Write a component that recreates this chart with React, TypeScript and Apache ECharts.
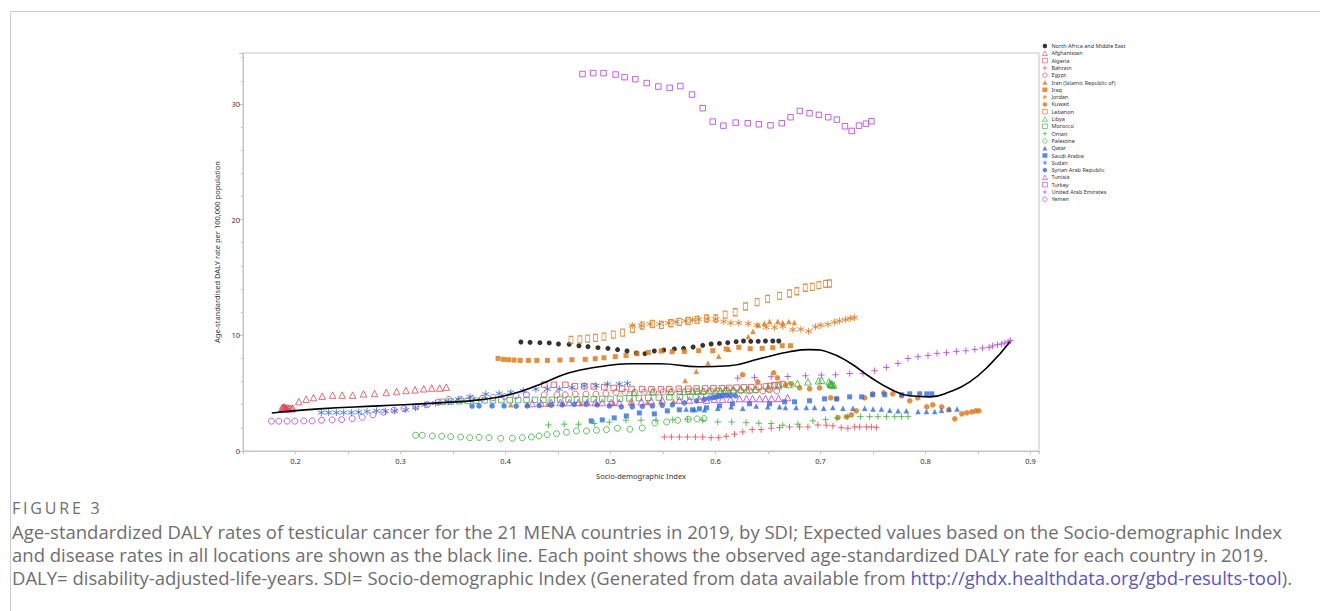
import React, { useEffect, useRef } from 'react';
import * as echarts from 'echarts';

const RED = '#e8424f';
const ORANGE = '#e2720a';
const GREEN = '#34b234';
const BLUE = '#2a6ce6';
const PURPLE = '#b13be6';
const BLACK = '#000000';

const PLUS = 'path://M0,5L10,5M5,0L5,10';
const STAR = 'path://M5,0L5,10M0.67,2.5L9.33,7.5M0.67,7.5L9.33,2.5';

const xTicks = [0.2, 0.3, 0.4, 0.5, 0.6, 0.7, 0.8, 0.9];
const yTicks = [0, 10, 20, 30];

const expectedLine = [
  [0.1774, 3.29], [0.2222, 3.64], [0.2794, 3.9], [0.3367, 4.16], [0.3748, 4.42], [0.4034, 4.86],
  [0.432, 5.72], [0.4606, 6.76], [0.4893, 7.28], [0.5179, 7.54], [0.5465, 7.54], [0.5846, 7.28],
  [0.6132, 7.37], [0.6419, 7.98], [0.6705, 8.58], [0.6895, 8.76], [0.7086, 8.5], [0.7277, 7.63],
  [0.7468, 6.42], [0.7659, 5.38], [0.7849, 4.77], [0.804, 4.68], [0.8231, 5.12], [0.8421, 5.98],
  [0.8612, 7.46], [0.8803, 9.45],
];

const nafme = [
  [0.4146, 9.42], [0.4234, 9.39], [0.4327, 9.36], [0.4416, 9.34], [0.4504, 9.25], [0.4606, 9.22],
  [0.4699, 9.1], [0.4785, 9.02], [0.488, 8.93], [0.4975, 8.87], [0.5067, 8.76], [0.5157, 8.64],
  [0.5245, 8.47], [0.5328, 8.41], [0.5417, 8.64], [0.5506, 8.73], [0.5608, 8.82], [0.5696, 8.87],
  [0.5786, 8.99], [0.5878, 9.13], [0.5958, 9.25], [0.6037, 9.3], [0.6116, 9.36], [0.6196, 9.45],
  [0.6266, 9.51], [0.6335, 9.48], [0.6406, 9.48], [0.6475, 9.51], [0.6545, 9.51], [0.6602, 9.51],
];

const afghanistan = [
  [0.187, 3.7], [0.188, 3.78], [0.189, 3.82], [0.1895, 3.72], [0.19, 3.75], [0.1905, 3.66],
  [0.191, 3.7], [0.1915, 3.64], [0.1925, 3.72], [0.1935, 3.68], [0.195, 3.7], [0.1965, 3.65],
  [0.1974, 3.7], [0.2031, 4.27], [0.2101, 4.48], [0.2172, 4.62], [0.2254, 4.74], [0.2353, 4.83],
  [0.2444, 4.83], [0.2544, 4.83], [0.2648, 4.94], [0.2753, 4.97], [0.2864, 5.06], [0.2963, 5.14],
  [0.3052, 5.23], [0.3138, 5.29], [0.3221, 5.38], [0.3297, 5.44], [0.3373, 5.44], [0.3436, 5.52],
];

const algeria = [
  [0.437, 5.75], [0.446, 5.72], [0.457, 5.72], [0.466, 5.6], [0.475, 5.6], [0.484, 5.58],
  [0.494, 5.52], [0.503, 5.45], [0.511, 5.38], [0.52, 5.35], [0.53, 5.35], [0.539, 5.33],
  [0.548, 5.33], [0.556, 5.35], [0.565, 5.38], [0.574, 5.38], [0.582, 5.4], [0.59, 5.4],
  [0.598, 5.42], [0.606, 5.42], [0.613, 5.45], [0.62, 5.48], [0.627, 5.5], [0.634, 5.52],
  [0.641, 5.55], [0.648, 5.58], [0.652, 5.62], [0.656, 5.68], [0.66, 5.72], [0.664, 5.78],
];

const bahrain = [
  [0.5512, 1.21], [0.5579, 1.21], [0.5655, 1.21], [0.5732, 1.21], [0.5808, 1.21], [0.5878, 1.21],
  [0.5958, 1.15], [0.603, 1.15], [0.6101, 1.27], [0.618, 1.45], [0.6259, 1.65], [0.6349, 1.85],
  [0.6434, 1.85], [0.653, 1.97], [0.6609, 2.02], [0.6704, 2.08], [0.68, 2.08], [0.6879, 2.08],
  [0.6974, 2.25], [0.7054, 2.23], [0.7117, 2.17], [0.7197, 2.02], [0.726, 1.97], [0.7324, 2.08],
  [0.7372, 2.08], [0.7436, 2.08], [0.7484, 2.08], [0.7531, 2.02],
];

const egypt = [
  [0.4368, 4.86], [0.4489, 4.86], [0.4568, 4.86], [0.4664, 4.92], [0.4766, 4.92], [0.4861, 4.92],
  [0.4956, 4.97], [0.5052, 5.06], [0.5138, 5.06], [0.523, 5.06], [0.532, 5.08], [0.541, 5.08],
  [0.55, 5.1], [0.558, 5.1], [0.566, 5.12], [0.574, 5.12], [0.582, 5.14], [0.589, 5.14],
  [0.596, 5.16], [0.603, 5.16], [0.61, 5.18], [0.617, 5.18], [0.624, 5.2], [0.6323, 5.2],
  [0.6387, 5.29], [0.645, 5.2], [0.6514, 5.29], [0.6583, 5.2],
];

const iran = [
  [0.405, 4.0], [0.421, 4.02], [0.44, 4.05], [0.455, 4.08], [0.472, 4.1], [0.487, 4.1],
  [0.503, 4.12], [0.52, 4.15], [0.535, 4.2], [0.548, 4.25], [0.56, 4.3], [0.571, 6.1],
  [0.5817, 6.9], [0.5928, 7.6], [0.603, 8.2], [0.6126, 8.8], [0.6311, 9.9], [0.6356, 10.36],
  [0.6407, 10.9], [0.6465, 11.05], [0.6514, 11.2], [0.6592, 11.2], [0.664, 11.1], [0.6698, 11.2],
  [0.675, 11.1],
];

const iraq = [
  [0.3929, 8.0], [0.398, 7.92], [0.4028, 7.89], [0.4082, 7.86], [0.4139, 7.83], [0.4218, 7.83],
  [0.4298, 7.83], [0.4399, 7.83], [0.4518, 7.86], [0.4632, 7.89], [0.4759, 7.92], [0.4854, 7.98],
  [0.4937, 8.06], [0.5045, 8.15], [0.5147, 8.26], [0.5252, 8.41], [0.536, 8.52], [0.5481, 8.64],
  [0.5586, 8.58], [0.5703, 8.61], [0.5839, 8.67], [0.5973, 8.67], [0.6101, 8.82], [0.6221, 8.96],
  [0.633, 8.84], [0.6444, 8.87], [0.6545, 8.93], [0.6635, 9.1], [0.6714, 9.1],
];

const jordan = [
  [0.5207, 10.84], [0.5296, 10.84], [0.5376, 10.98], [0.5467, 10.98], [0.5551, 11.07], [0.5624, 11.16],
  [0.5713, 11.24], [0.5782, 11.33], [0.5839, 11.39], [0.592, 11.42], [0.6002, 11.39], [0.6078, 11.19],
  [0.6145, 11.07], [0.6221, 11.07], [0.6311, 11.01], [0.6394, 10.88], [0.6482, 10.69], [0.6561, 10.69],
  [0.664, 10.78], [0.6736, 10.49], [0.6812, 10.52], [0.6886, 10.35], [0.6952, 10.73], [0.7003, 10.87],
  [0.707, 10.95], [0.7134, 11.13], [0.7181, 11.25], [0.7238, 11.36], [0.7283, 11.47], [0.7324, 11.53],
];

const kuwait = [
  [0.6258, 6.59], [0.6401, 5.98], [0.6554, 6.76], [0.659, 6.33], [0.6667, 5.72], [0.6723, 5.81],
  [0.68, 5.46], [0.6895, 5.38], [0.699, 5.46], [0.7096, 4.6], [0.7153, 4.51], [0.7165, 2.89],
  [0.7245, 2.95], [0.7293, 3.12], [0.734, 3.47], [0.742, 4.6], [0.7496, 4.94], [0.7601, 5.03],
  [0.7687, 4.94], [0.7772, 4.77], [0.7849, 4.34], [0.7925, 4.6], [0.8011, 3.82], [0.8068, 3.99],
  [0.8154, 3.82], [0.8221, 3.56], [0.8278, 2.78], [0.8345, 3.21], [0.8392, 3.3], [0.844, 3.38],
  [0.8478, 3.47], [0.8507, 3.47],
];

const lebanon = [
  [0.4623, 9.6], [0.4708, 9.65], [0.4781, 9.71], [0.4857, 9.77], [0.4937, 9.88], [0.5026, 10.06],
  [0.5115, 10.23], [0.521, 10.55], [0.53, 10.84], [0.5401, 10.98], [0.5484, 10.9], [0.5576, 11.04],
  [0.5655, 11.16], [0.5741, 11.24], [0.5824, 11.33], [0.5913, 11.45], [0.6002, 11.45], [0.6091, 11.79],
  [0.6187, 11.99], [0.6285, 12.49], [0.6396, 12.86], [0.6495, 13.15], [0.6609, 13.41], [0.6704, 13.61],
  [0.6774, 13.81], [0.6854, 14.11], [0.6921, 14.19], [0.6984, 14.33], [0.7048, 14.45], [0.7086, 14.48],
];

const libya = [
  [0.5224, 5.06], [0.54, 5.14], [0.5574, 5.14], [0.57, 5.16], [0.578, 5.18], [0.583, 5.2],
  [0.588, 5.2], [0.594, 5.22], [0.6, 5.22], [0.605, 5.24], [0.609, 5.26], [0.612, 5.28],
  [0.617, 5.3], [0.624, 5.35], [0.63, 5.3], [0.638, 5.32], [0.65, 5.45], [0.66, 5.64],
  [0.67, 5.75], [0.678, 5.84], [0.688, 5.98], [0.698, 6.07], [0.701, 6.13], [0.708, 6.0],
  [0.7095, 5.84], [0.711, 5.78], [0.7125, 5.7], [0.71, 5.75], [0.709, 5.8], [0.7105, 5.72],
];

const morocco = [
  [0.34, 4.25], [0.348, 4.27], [0.356, 4.3], [0.364, 4.33], [0.372, 4.35], [0.38, 4.38],
  [0.388, 4.38], [0.396, 4.4], [0.404, 4.4], [0.412, 4.4], [0.42, 4.42], [0.428, 4.42],
  [0.436, 4.42], [0.444, 4.42], [0.452, 4.45], [0.46, 4.45], [0.468, 4.45], [0.476, 4.48],
  [0.484, 4.48], [0.492, 4.5], [0.5, 4.5], [0.509, 4.52], [0.518, 4.55], [0.527, 4.57],
  [0.536, 4.6], [0.546, 4.62], [0.556, 4.65], [0.566, 4.68], [0.576, 4.7], [0.586, 4.72],
];

const oman = [
  [0.4409, 2.25], [0.4559, 2.32], [0.4695, 2.32], [0.4845, 2.37], [0.4988, 2.49], [0.5147, 2.66],
  [0.529, 2.66], [0.5433, 2.66], [0.5592, 2.69], [0.5734, 2.75], [0.5878, 2.66], [0.6021, 2.51],
  [0.6154, 2.51], [0.6291, 2.45], [0.6412, 2.4], [0.653, 2.37], [0.664, 2.23], [0.6784, 2.32],
  [0.6927, 2.6], [0.7048, 2.71], [0.7155, 2.84], [0.726, 2.95], [0.7379, 2.97], [0.7467, 2.97],
  [0.7546, 2.97], [0.7627, 2.97], [0.7706, 2.97], [0.777, 2.97], [0.7833, 2.97],
];

const palestine = [
  [0.3144, 1.36], [0.3207, 1.36], [0.3303, 1.3], [0.3392, 1.27], [0.3478, 1.24], [0.3573, 1.21],
  [0.3659, 1.15], [0.3748, 1.18], [0.3843, 1.15], [0.3954, 1.1], [0.4065, 1.1], [0.416, 1.15],
  [0.4246, 1.21], [0.4319, 1.3], [0.4396, 1.41], [0.4485, 1.5], [0.458, 1.62], [0.4675, 1.73],
  [0.4771, 1.73], [0.4866, 1.79], [0.4961, 1.85], [0.5066, 1.97], [0.5184, 1.88], [0.5302, 1.99],
  [0.5423, 2.43], [0.5534, 2.51], [0.5639, 2.66], [0.5741, 2.75], [0.5824, 2.77], [0.589, 2.8],
];

const qatar = [
  [0.572, 3.62], [0.58, 3.58], [0.5894, 3.56], [0.6021, 3.7], [0.6149, 3.82], [0.6259, 3.7],
  [0.6387, 3.9], [0.6497, 3.82], [0.6609, 3.82], [0.6666, 3.75], [0.6768, 3.75], [0.6864, 3.75],
  [0.6943, 3.75], [0.7029, 3.7], [0.7117, 3.75], [0.7213, 3.7], [0.7308, 3.7], [0.742, 3.7],
  [0.7499, 3.62], [0.7579, 3.62], [0.7659, 3.53], [0.7738, 3.47], [0.7817, 3.47], [0.7928, 3.41],
  [0.8008, 3.41], [0.8087, 3.41], [0.8151, 3.53], [0.8224, 3.62], [0.83, 3.62],
];

const saudiArabia = [
  [0.4816, 2.6], [0.4921, 2.69], [0.5035, 2.86], [0.515, 3.03], [0.5274, 3.29], [0.5417, 3.21],
  [0.5541, 3.47], [0.5655, 3.56], [0.578, 3.56], [0.5846, 3.64], [0.5913, 3.73], [0.6037, 3.9],
  [0.6161, 4.08], [0.6323, 4.08], [0.6514, 4.08], [0.6657, 4.25], [0.6752, 4.25], [0.6895, 4.34],
  [0.7038, 4.51], [0.7153, 4.51], [0.7277, 4.68], [0.7391, 4.68], [0.7496, 4.86], [0.7611, 4.86],
  [0.7773, 4.86], [0.7849, 4.94], [0.7944, 4.94], [0.8011, 4.94], [0.8059, 4.94],
];

const sudan = [
  [0.2246, 3.32], [0.2316, 3.32], [0.2389, 3.32], [0.2459, 3.32], [0.2532, 3.32], [0.2602, 3.36],
  [0.2681, 3.41], [0.2771, 3.47], [0.2857, 3.44], [0.2945, 3.47], [0.305, 3.56], [0.3143, 3.75],
  [0.3232, 3.99], [0.3334, 4.14], [0.3454, 4.25], [0.3549, 4.48], [0.3661, 4.68], [0.3812, 4.91],
  [0.3939, 4.97], [0.405, 5.06], [0.4168, 5.2], [0.4289, 5.35], [0.4399, 5.35], [0.4511, 5.35],
  [0.4632, 5.49], [0.4749, 5.64], [0.4861, 5.64], [0.4972, 5.78], [0.5083, 5.78], [0.5162, 5.84],
];

const syria = [
  [0.3681, 3.88], [0.3748, 3.9], [0.3872, 3.9], [0.3986, 3.9], [0.4101, 3.88], [0.4206, 3.9],
  [0.432, 3.93], [0.4435, 3.96], [0.454, 3.99], [0.4654, 4.03], [0.4768, 4.05], [0.4873, 3.99],
  [0.4988, 3.9], [0.5102, 3.82], [0.5207, 3.82], [0.5303, 3.86], [0.5398, 3.9], [0.5493, 3.95],
  [0.5589, 3.99], [0.5703, 4.16], [0.5818, 4.34], [0.5894, 4.47], [0.5942, 4.57], [0.598, 4.64],
  [0.6008, 4.68], [0.6037, 4.73], [0.6066, 4.77], [0.6104, 4.79], [0.6142, 4.79], [0.619, 4.77],
];

const tunisia = [
  [0.4254, 4.1], [0.4339, 4.12], [0.4435, 4.19], [0.4521, 4.19], [0.4606, 4.19], [0.4692, 4.19],
  [0.4778, 4.19], [0.4854, 4.19], [0.4921, 4.19], [0.5007, 4.19], [0.5083, 4.19], [0.5198, 4.27],
  [0.5293, 4.27], [0.5388, 4.34], [0.5493, 4.4], [0.5655, 4.4], [0.5751, 4.4], [0.5846, 4.48],
  [0.5913, 4.4], [0.5989, 4.48], [0.6066, 4.48], [0.6142, 4.48], [0.6228, 4.53], [0.6295, 4.53],
  [0.6352, 4.53], [0.6419, 4.53], [0.6476, 4.53], [0.6533, 4.53], [0.66, 4.55], [0.6686, 4.62],
];

const turkey = [
  [0.4733, 32.58], [0.4835, 32.66], [0.4933, 32.66], [0.5048, 32.54], [0.5134, 32.31], [0.5236, 32.14],
  [0.5344, 31.8], [0.5455, 31.5], [0.5563, 31.39], [0.5665, 31.54], [0.5776, 30.81], [0.5878, 29.63],
  [0.5973, 28.47], [0.6075, 28.12], [0.6192, 28.38], [0.6307, 28.33], [0.6412, 28.24], [0.6523, 28.15],
  [0.6631, 28.33], [0.6714, 28.85], [0.6803, 29.39], [0.6895, 29.19], [0.6984, 29.05], [0.7073, 28.85],
  [0.7155, 28.64], [0.7232, 28.07], [0.7296, 27.66], [0.7366, 28.12], [0.7432, 28.29], [0.7484, 28.5],
];

const uae = [
  [0.6211, 6.3], [0.6371, 6.36], [0.653, 6.42], [0.6688, 6.44], [0.6857, 6.5], [0.7007, 6.56],
  [0.7143, 6.59], [0.7277, 6.7], [0.7404, 6.7], [0.7515, 6.94], [0.7627, 7.22], [0.7737, 7.57],
  [0.7833, 8.0], [0.7928, 8.15], [0.8023, 8.26], [0.8109, 8.44], [0.8199, 8.5], [0.8294, 8.61],
  [0.8383, 8.67], [0.8469, 8.78], [0.8542, 8.9], [0.8605, 8.96], [0.8638, 9.08], [0.8685, 9.19],
  [0.8723, 9.25], [0.8755, 9.34], [0.8786, 9.43], [0.8809, 9.54],
];

const yemen = [
  [0.1771, 2.58], [0.1841, 2.58], [0.192, 2.58], [0.1993, 2.58], [0.2079, 2.6], [0.2158, 2.6],
  [0.2248, 2.66], [0.2349, 2.69], [0.2439, 2.71], [0.254, 2.8], [0.2635, 2.92], [0.2737, 3.12],
  [0.2839, 3.36], [0.2937, 3.53], [0.3033, 3.67], [0.3147, 3.82], [0.3255, 4.01], [0.336, 4.22],
  [0.3462, 4.45], [0.3574, 4.45], [0.368, 4.5], [0.378, 4.56], [0.388, 4.62], [0.399, 4.7],
  [0.41, 4.77], [0.42, 4.86],
];

type Def = { name: string; data: number[][]; color: string; symbol: string; kind: 'fill' | 'hollow' | 'line'; size: number | number[] };

const defs: Def[] = [
  { name: 'North Africa and Middle East', data: nafme, color: BLACK, symbol: 'circle', kind: 'fill', size: 5 },
  { name: 'Afghanistan', data: afghanistan, color: RED, symbol: 'triangle', kind: 'hollow', size: 6.5 },
  { name: 'Algeria', data: algeria, color: RED, symbol: 'rect', kind: 'hollow', size: 5.5 },
  { name: 'Bahrain', data: bahrain, color: RED, symbol: PLUS, kind: 'line', size: 6.5 },
  { name: 'Egypt', data: egypt, color: RED, symbol: 'circle', kind: 'hollow', size: 6 },
  { name: 'Iran (Islamic Republic of)', data: iran, color: ORANGE, symbol: 'triangle', kind: 'fill', size: 5.5 },
  { name: 'Iraq', data: iraq, color: ORANGE, symbol: 'rect', kind: 'fill', size: 5 },
  { name: 'Jordan', data: jordan, color: ORANGE, symbol: STAR, kind: 'line', size: 7 },
  { name: 'Kuwait', data: kuwait, color: ORANGE, symbol: 'circle', kind: 'fill', size: 5.5 },
  { name: 'Lebanon', data: lebanon, color: ORANGE, symbol: 'rect', kind: 'hollow', size: [4, 7] },
  { name: 'Libya', data: libya, color: GREEN, symbol: 'triangle', kind: 'hollow', size: 6.5 },
  { name: 'Morocco', data: morocco, color: GREEN, symbol: 'rect', kind: 'hollow', size: 5.5 },
  { name: 'Oman', data: oman, color: GREEN, symbol: PLUS, kind: 'line', size: 6.5 },
  { name: 'Palestine', data: palestine, color: GREEN, symbol: 'circle', kind: 'hollow', size: 6 },
  { name: 'Qatar', data: qatar, color: BLUE, symbol: 'triangle', kind: 'fill', size: 5.5 },
  { name: 'Saudi Arabia', data: saudiArabia, color: BLUE, symbol: 'rect', kind: 'fill', size: 5 },
  { name: 'Sudan', data: sudan, color: BLUE, symbol: STAR, kind: 'line', size: 7 },
  { name: 'Syrian Arab Republic', data: syria, color: BLUE, symbol: 'circle', kind: 'fill', size: 5.5 },
  { name: 'Tunisia', data: tunisia, color: PURPLE, symbol: 'triangle', kind: 'hollow', size: 6.5 },
  { name: 'Turkey', data: turkey, color: PURPLE, symbol: 'rect', kind: 'hollow', size: 5.5 },
  { name: 'United Arab Emirates', data: uae, color: PURPLE, symbol: PLUS, kind: 'line', size: 6.5 },
  { name: 'Yemen', data: yemen, color: PURPLE, symbol: 'circle', kind: 'hollow', size: 6 },
];

const FONT = '"Noto Sans", "Open Sans", sans-serif';
const CAP_FONT = '"Open Sans", "Noto Sans", sans-serif';
const CAP_COLOR = '#6e6e6e';

export default function App() {
  const ref = useRef<HTMLDivElement>(null);
  useEffect(() => {
    if (!ref.current) return;
    const chart = echarts.init(ref.current, undefined, { renderer: 'svg' });
    const scatter = defs.map((d) => ({
      type: 'scatter',
      name: d.name,
      data: d.data,
      symbol: d.symbol,
      symbolSize: d.size,
      itemStyle:
        d.kind === 'hollow'
          ? { color: 'rgba(255,255,255,0)', borderColor: d.color, borderWidth: 1 }
          : d.kind === 'line'
          ? { color: d.color, borderColor: d.color, borderWidth: 1 }
          : { color: d.color, borderWidth: 0 },
      emphasis: { disabled: true },
      z: 3,
    }));
    chart.setOption({
      animation: false,
      backgroundColor: '#ffffff',
      grid: { left: 243, top: 53, right: 281, bottom: 160, show: true, borderColor: '#c4c4c4', borderWidth: 1 },
      legend: {
        data: defs.map((d) => d.name),
        orient: 'vertical',
        left: 1042,
        top: 43,
        padding: 0,
        itemWidth: 5,
        itemHeight: 4.5,
        itemGap: 1.3,
        selectedMode: false,
        itemStyle: { borderWidth: 0.8 },
        textStyle: { fontSize: 5.5, lineHeight: 5, color: '#333', fontFamily: FONT, padding: [0, 0, 0, -1] },
      },
      xAxis: {
        type: 'value',
        min: 0.15,
        max: 0.908,
        interval: 0.05,
        name: 'Socio-demographic Index',
        nameLocation: 'middle',
        nameGap: 21,
        nameTextStyle: { fontSize: 7.5, color: '#333', fontFamily: FONT },
        axisLine: { show: true, lineStyle: { color: '#c4c4c4' } },
        axisTick: { show: true, length: 3, lineStyle: { color: '#c4c4c4' } },
        axisLabel: {
          fontSize: 7.5,
          color: '#333',
          fontFamily: FONT,
          margin: 6,
          formatter: (v: number) => {
            const t = xTicks.find((k) => Math.abs(k - v) < 1e-6);
            return t === undefined ? '' : t.toFixed(1);
          },
        },
        splitLine: { show: false },
      },
      yAxis: {
        type: 'value',
        min: 0,
        max: 34.4,
        interval: 10,
        name: 'Age-standardised DALY rate per 100,000 population',
        nameLocation: 'middle',
        nameGap: 14,
        nameTextStyle: { fontSize: 7.5, color: '#333', fontFamily: FONT },
        axisLine: { show: true, lineStyle: { color: '#c4c4c4' } },
        axisTick: { show: true, length: 4, lineStyle: { color: '#c4c4c4' } },
        minorTick: { show: true, splitNumber: 5, length: 2, lineStyle: { color: '#c4c4c4' } },
        axisLabel: {
          fontSize: 7.5,
          color: '#333',
          fontFamily: FONT,
          margin: 3,
          showMaxLabel: false,
          formatter: (v: number) => (yTicks.indexOf(v) >= 0 ? String(v) : ''),
        },
        splitLine: { show: false },
        minorSplitLine: { show: false },
      },
      series: [
        ...scatter,
        {
          type: 'line',
          name: 'Expected',
          data: expectedLine,
          smooth: 0.5,
          showSymbol: false,
          symbol: 'none',
          lineStyle: { color: '#000', width: 1.6 },
          z: 4,
        },
      ],
      graphic: [
        { type: 'line', shape: { x1: 10, y1: 11.5, x2: 1320, y2: 11.5 }, style: { stroke: '#cccccc', lineWidth: 1 } },
        { type: 'line', shape: { x1: 10.5, y1: 11, x2: 10.5, y2: 611 }, style: { stroke: '#cccccc', lineWidth: 1 } },
      ],
    });
    return () => chart.dispose();
  }, []);
  const lineStyle: React.CSSProperties = { whiteSpace: 'nowrap', height: 23, lineHeight: '23px' };
  return (
    <div style={{ position: 'fixed', left: 0, top: 0, width: 1320, height: 611, background: '#fff' }}>
      <div ref={ref} style={{ position: 'absolute', left: 0, top: 0, width: 1320, height: 611 }} />
      <div
        style={{
          position: 'absolute', left: 12, top: 496.5, fontFamily: CAP_FONT, color: CAP_COLOR,
          fontSize: 18.5, pointerEvents: 'none',
        }}
      >
        <div style={{ ...lineStyle, fontSize: 16, letterSpacing: 2.8 }}>FIGURE 3</div>
        <div style={lineStyle}>Age-standardized DALY rates of testicular cancer for the 21 MENA countries in 2019, by SDI; Expected values based on the Socio-demographic Index</div>
        <div style={lineStyle}>and disease rates in all locations are shown as the black line. Each point shows the observed age-standardized DALY rate for each country in 2019.</div>
        <div style={lineStyle}>
          DALY= disability-adjusted-life-years. SDI= Socio-demographic Index (Generated from data available from{' '}
          <span style={{ color: '#5b55c6' }}>http://ghdx.healthdata.org/gbd-results-tool</span>).
        </div>
      </div>
    </div>
  );
}
